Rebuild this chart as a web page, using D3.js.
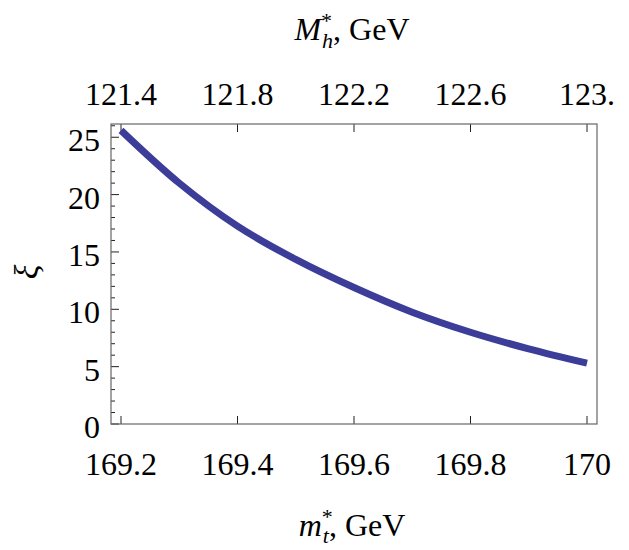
<!DOCTYPE html>
<html>
<head>
<meta charset="utf-8">
<script src="https://d3js.org/d3.v7.min.js"></script>
</head>
<body style="margin:0">
<svg width="629" height="550"></svg>
<script>
// values
const mt = [169.2, 169.3, 169.4, 169.5, 169.6, 169.7, 169.8, 169.9, 170.0];
const xi = [25.6, 21.0, 17.25, 14.35, 11.9, 9.75, 8.0, 6.55, 5.3];

const bottomTicks = [169.2, 169.4, 169.6, 169.8, 170];
const bottomLabels = ['169.2', '169.4', '169.6', '169.8', '170'];
const topTicks = [121.4, 121.8, 122.2, 122.6, 123.0];
const topLabels = ['121.4', '121.8', '122.2', '122.6', '123.'];
const yTicks = [0, 5, 10, 15, 20, 25];
const yMinor = [1, 2, 3, 4, 6, 7, 8, 9, 11, 12, 13, 14, 16, 17, 18, 19, 21, 22, 23, 24, 26];

const fam = "'Liberation Serif'";
const svg = d3.select('svg');
const pl = 111, pr = 597, pt = 124, pb = 424;

const x = d3.scaleLinear().domain([169.2, 170]).range([121, 587]);
const xTop = d3.scaleLinear().domain([121.4, 123.0]).range([121, 587]);
const y = d3.scaleLinear().domain([0, 25]).range([pb, pb - 25 * 11.47]);

// tick labels
svg.selectAll('text.ylab').data(yTicks).enter()
    .append('text')
    .attr('class', 'ylab')
    .style('font-family', fam)
    .attr('x', 100)
    .attr('y', d => y(d) + 14)
    .attr('text-anchor', 'end')
    .attr('font-size', 32)
    .text(d => d);
svg.selectAll('text.blab').data(bottomTicks).enter()
    .append('text')
    .attr('class', 'blab')
    .style('font-family', fam)
    .attr('x', d => x(d))
    .attr('y', 475)
    .attr('text-anchor', 'middle')
    .attr('font-size', 32)
    .text((d, i) => bottomLabels[i]);
svg.selectAll('text.tlab').data(topTicks).enter()
    .append('text')
    .attr('class', 'tlab')
    .style('font-family', fam)
    .attr('x', d => xTop(d))
    .attr('y', 105)
    .attr('text-anchor', 'middle')
    .attr('font-size', 32)
    .text((d, i) => topLabels[i]);

// ticks, drawn from the scales
svg.selectAll('line.ymin').data(yMinor).enter()
    .append('line').attr('class', 'ymin')
    .attr('x1', pl).attr('x2', pl + 4)
    .attr('y1', d => y(d)).attr('y2', d => y(d))
    .attr('stroke', '#222');
svg.selectAll('line.ymaj').data(yTicks).enter()
    .append('line').attr('class', 'ymaj')
    .attr('x1', pl).attr('x2', pl + 8)
    .attr('y1', d => y(d)).attr('y2', d => y(d))
    .attr('stroke', '#222');
svg.selectAll('line.bt').data(bottomTicks).enter()
    .append('line').attr('class', 'bt')
    .attr('x1', d => x(d)).attr('x2', d => x(d))
    .attr('y1', pb).attr('y2', pb - 8)
    .attr('stroke', '#222');
svg.selectAll('line.tt').data(topTicks).enter()
    .append('line').attr('class', 'tt')
    .attr('x1', d => xTop(d)).attr('x2', d => xTop(d))
    .attr('y1', pt).attr('y2', pt + 8)
    .attr('stroke', '#222');

svg.append('rect')
    .attr('x', pl).attr('y', pt)
    .attr('width', pr - pl).attr('height', pb - pt)
    .attr('fill', 'none').attr('stroke', '#666').attr('stroke-width', 1.2);

// curve
const line = d3.line()
    .x((d, i) => x(mt[i]))
    .y(d => y(d))
    .curve(d3.curveCatmullRom);
svg.append('path')
    .attr('d', line(xi))
    .attr('fill', 'none')
    .attr('stroke', '#3c3c99')
    .attr('stroke-width', 7);

// axis titles
const tTop = svg.append('text').attr('x', 352).attr('y', 40)
    .style('font-family', fam)
    .attr('text-anchor', 'middle').attr('font-size', 32);
tTop.append('tspan').attr('font-style', 'italic').text('M');
tTop.append('tspan').attr('font-size', 22).attr('dy', -12).text('*');
tTop.append('tspan').attr('font-size', 22).attr('font-style', 'italic').attr('dx', -10).attr('dy', 20).text('h');
tTop.append('tspan').attr('dy', -8).text(', GeV');

const tBot = svg.append('text').attr('x', 352).attr('y', 536)
    .style('font-family', fam)
    .attr('text-anchor', 'middle').attr('font-size', 32);
tBot.append('tspan').attr('font-style', 'italic').text('m');
tBot.append('tspan').attr('font-size', 22).attr('dy', -12).text('*');
tBot.append('tspan').attr('font-size', 22).attr('font-style', 'italic').attr('dx', -10).attr('dy', 19).text('t');
tBot.append('tspan').attr('dy', -7).text(', GeV');

svg.append('text')
    .style('font-family', fam)
    .attr('transform', 'translate(38,272) rotate(-90)')
    .attr('text-anchor', 'middle')
    .attr('font-size', 34)
    .attr('font-style', 'italic')
    .text('ξ');
</script>
</body>
</html>
